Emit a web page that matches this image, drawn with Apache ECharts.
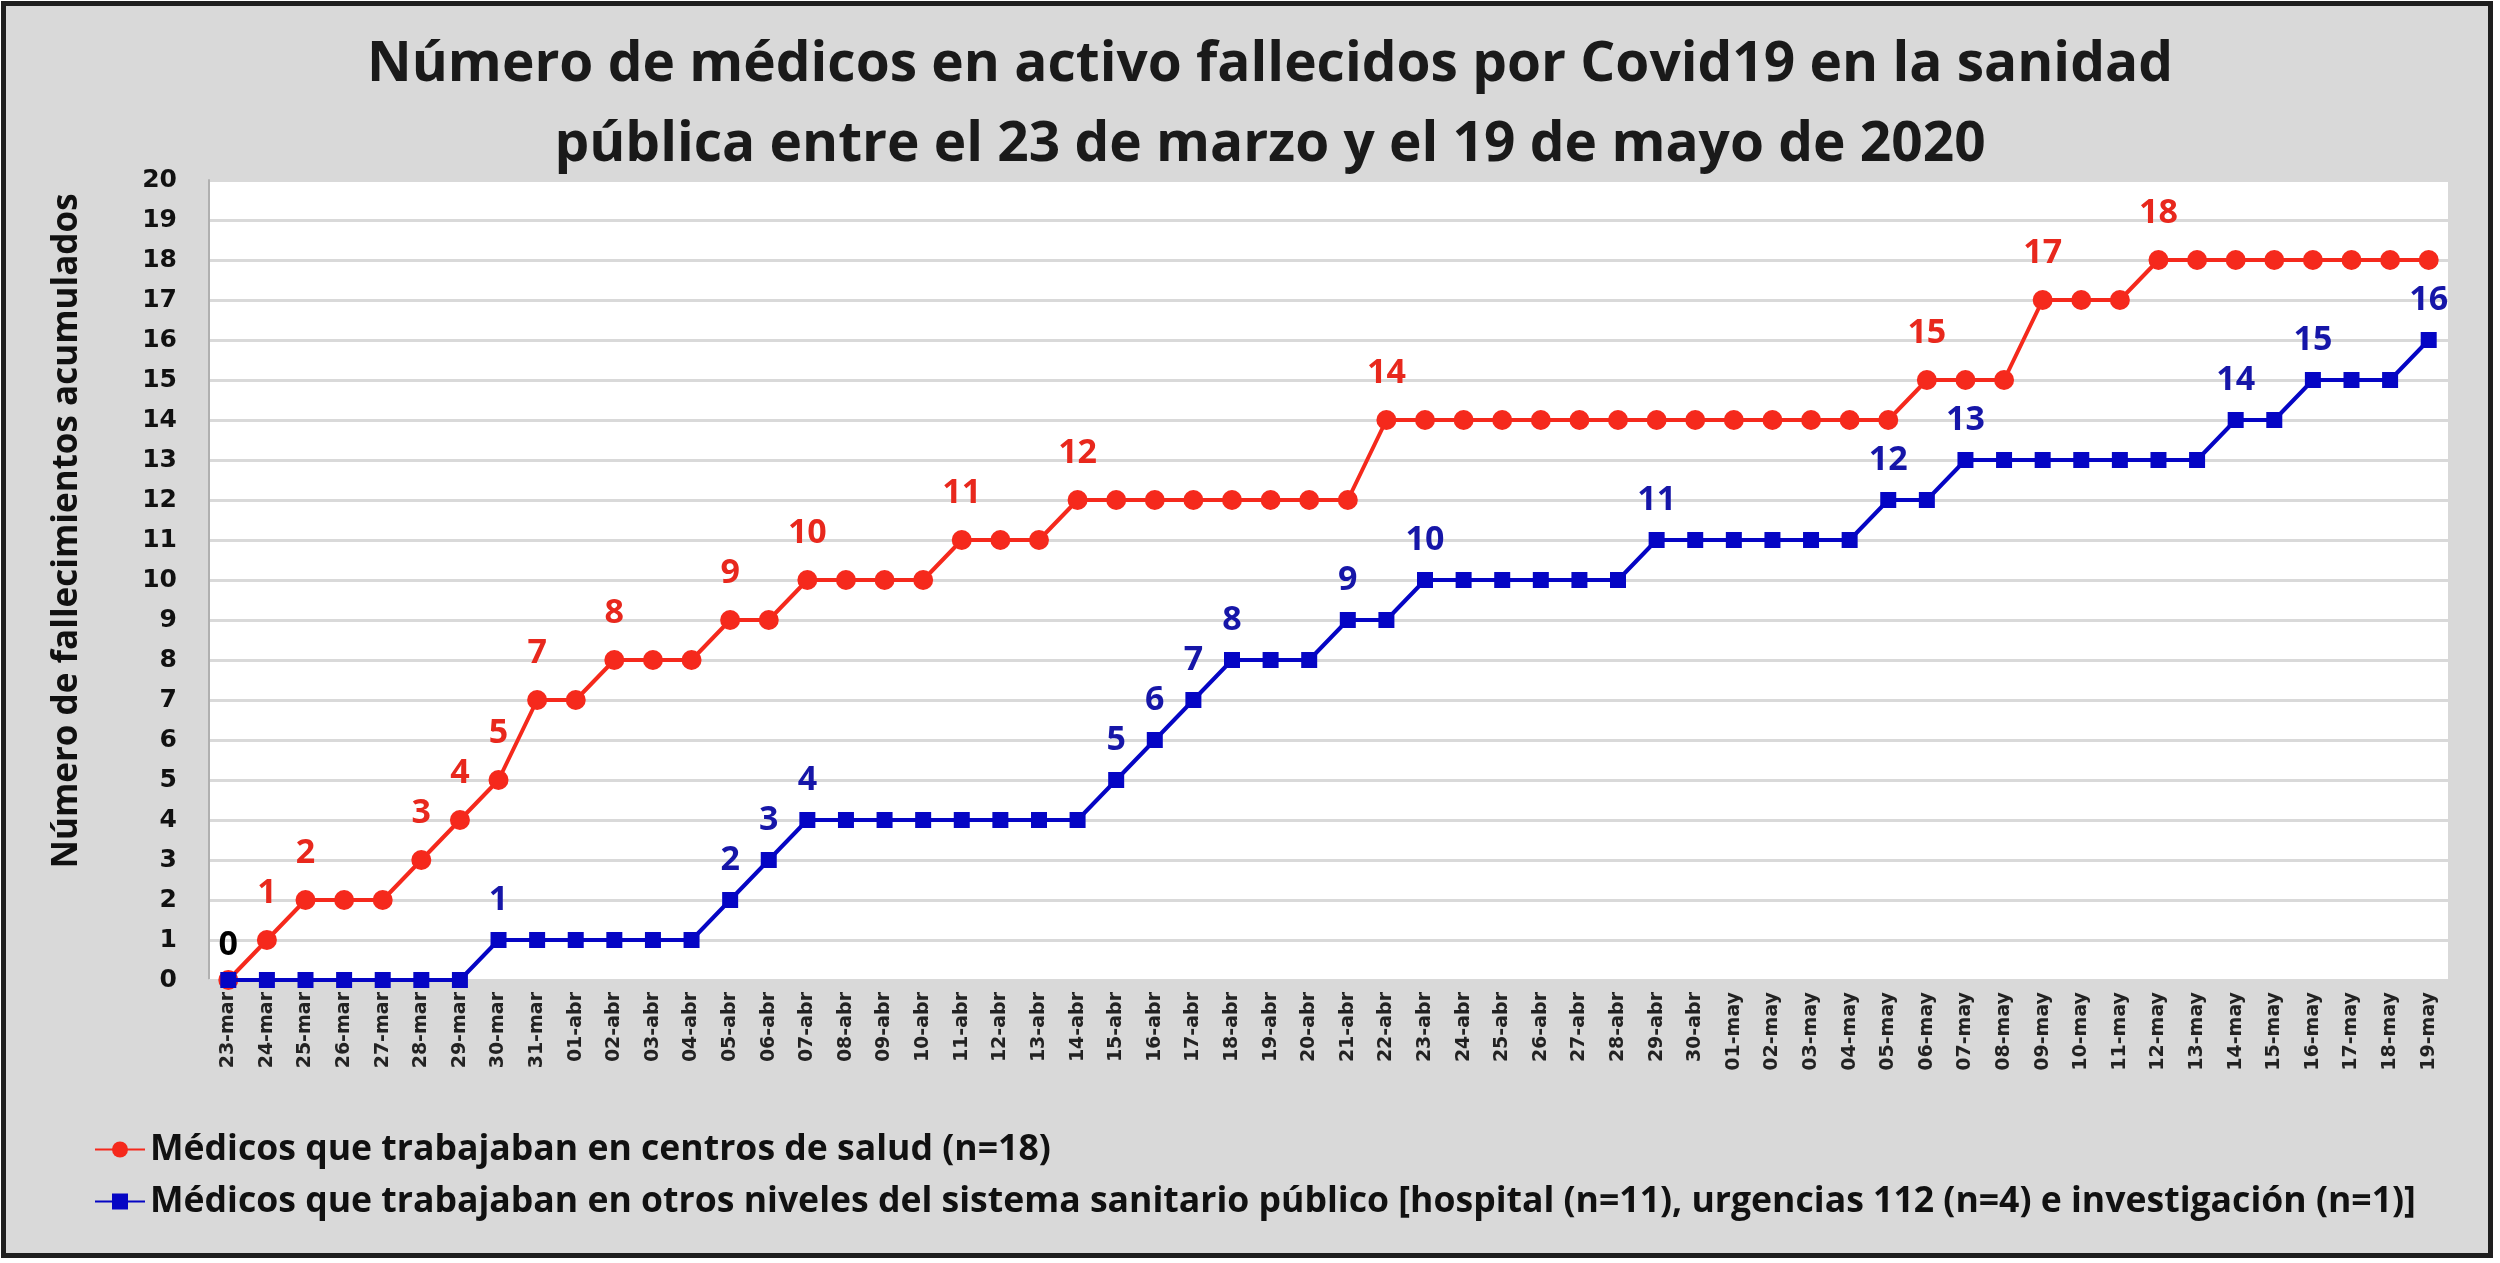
<!DOCTYPE html>
<html>
<head>
<meta charset="utf-8">
<script src="https://cdn.jsdelivr.net/npm/echarts@6/dist/echarts.min.js"></script>
<style>
  html, body { margin: 0; padding: 0; background: #ffffff; }
  #frame { position: absolute; left: 1px; top: 1px; width: 2492px; height: 1257px; box-sizing: border-box;
           border: 5px solid #1e1e1e; background: #d9d9d9; }
  #chart { position: absolute; left: 0; top: 0; width: 2500px; height: 1263px; }
</style>
</head>
<body>
<div id="frame"></div>
<div id="chart"></div>
<script>
const titleText = 'Número de médicos en activo fallecidos por Covid19 en la sanidad\npública entre el 23 de marzo y el 19 de mayo de 2020';
const yAxisTitle = 'Número de fallecimientos acumulados';
const redName = 'Médicos que trabajaban en centros de salud (n=18)';
const blueName = 'Médicos que trabajaban en otros niveles del sistema sanitario público [hospital (n=11), urgencias 112 (n=4) e investigación (n=1)]';

const categories = [
  '23-mar','24-mar','25-mar','26-mar','27-mar','28-mar','29-mar','30-mar','31-mar',
  '01-abr','02-abr','03-abr','04-abr','05-abr','06-abr','07-abr','08-abr','09-abr','10-abr',
  '11-abr','12-abr','13-abr','14-abr','15-abr','16-abr','17-abr','18-abr','19-abr','20-abr',
  '21-abr','22-abr','23-abr','24-abr','25-abr','26-abr','27-abr','28-abr','29-abr','30-abr',
  '01-may','02-may','03-may','04-may','05-may','06-may','07-may','08-may','09-may','10-may',
  '11-may','12-may','13-may','14-may','15-may','16-may','17-may','18-may','19-may'
];

const redValues = [
  0,1,2,2,2,3,4,5,7,7,
  8,8,8,9,9,10,10,10,10,11,
  11,11,12,12,12,12,12,12,12,12,
  14,14,14,14,14,14,14,14,14,14,
  14,14,14,14,15,15,15,17,17,17,
  18,18,18,18,18,18,18,18
];

const blueValues = [
  0,0,0,0,0,0,0,1,1,1,
  1,1,1,2,3,4,4,4,4,4,
  4,4,4,5,6,7,8,8,8,9,
  9,10,10,10,10,10,10,11,11,11,
  11,11,11,12,12,13,13,13,13,13,
  13,13,14,14,15,15,15,16
];

const redLabelIndex = [1,2,5,6,7,8,10,13,15,19,22,30,44,47,50];
const zeroLabelIndex = [0];
const blueLabelIndex = [7,13,14,15,23,24,25,26,29,31,37,43,45,52,54,57];

const yTicks = { min: 0, max: 20, interval: 1 };

const RED = '#f5291c';
const RED_LABEL = '#e8281d';
const BLUE = '#0505c4';
const BLUE_LABEL = '#1616a8';
const FONT = 'Open Sans';

const redData = redValues.map((v, i) => {
  if (zeroLabelIndex.includes(i)) {
    return { value: v, label: { show: true, color: '#000000', distance: 8 } };
  }
  return { value: v, label: { show: redLabelIndex.includes(i) } };
});
const blueData = blueValues.map((v, i) => ({ value: v, label: { show: blueLabelIndex.includes(i) } }));

const chart = echarts.init(document.getElementById('chart'), null, { renderer: 'canvas' });
chart.setOption({
  backgroundColor: 'transparent',
  animation: false,
  title: {
    text: titleText,
    left: 1270,
    top: 25,
    textAlign: 'center',
    padding: 0,
    textStyle: { fontFamily: FONT, fontWeight: 'bold', fontSize: 55, lineHeight: 80, color: '#1a1a1a' }
  },
  graphic: [{
    type: 'text',
    x: 67,
    y: 531,
    rotation: Math.PI / 2,
    style: {
      text: yAxisTitle,
      align: 'center',
      verticalAlign: 'middle',
      fontFamily: FONT,
      fontWeight: 'bold',
      fontSize: 35,
      fill: '#111111'
    }
  }],
  legend: {
    orient: 'vertical',
    left: 94,
    top: 1131,
    itemWidth: 50,
    itemHeight: 20,
    itemGap: 15,
    padding: 0,
    textStyle: { fontFamily: FONT, fontWeight: 'bold', fontSize: 35.6, color: '#111111', lineHeight: 37 },
    data: [redName, blueName]
  },
  grid: {
    left: 209,
    right: 52,
    top: 180,
    bottom: 283,
    show: true,
    backgroundColor: '#ffffff',
    borderWidth: 0
  },
  xAxis: {
    type: 'category',
    data: categories,
    boundaryGap: true,
    axisLine: { show: true, lineStyle: { color: '#d9d9d9', width: 3 } },
    axisTick: { show: false },
    axisLabel: {
      interval: 0,
      rotate: 90,
      fontFamily: 'DejaVu Sans',
      fontWeight: 'bold',
      fontSize: 19,
      color: '#222222',
      margin: 12
    },
    splitLine: { show: false }
  },
  yAxis: {
    type: 'value',
    min: yTicks.min,
    max: yTicks.max,
    interval: yTicks.interval,
    axisLine: { show: true, lineStyle: { color: '#b0b0b0', width: 2 } },
    axisTick: { show: false },
    axisLabel: {
      fontFamily: 'DejaVu Sans',
      fontWeight: 'bold',
      fontSize: 25,
      color: '#111111',
      margin: 32
    },
    splitLine: { show: true, lineStyle: { color: '#d9d9d9', width: 3 } }
  },
  series: [
    {
      name: redName,
      type: 'line',
      data: redData,
      symbol: 'circle',
      symbolSize: 20,
      lineStyle: { color: RED, width: 4 },
      itemStyle: { color: RED },
      label: {
        show: false,
        position: 'top',
        distance: 20,
        fontFamily: FONT,
        fontWeight: 'bold',
        fontSize: 34,
        color: RED_LABEL
      },
      z: 2
    },
    {
      name: blueName,
      type: 'line',
      data: blueData,
      symbol: 'rect',
      symbolSize: 16,
      lineStyle: { color: BLUE, width: 4 },
      itemStyle: { color: BLUE },
      label: {
        show: false,
        position: 'top',
        distance: 15,
        fontFamily: FONT,
        fontWeight: 'bold',
        fontSize: 34,
        color: BLUE_LABEL
      },
      z: 3
    }
  ]
});
</script>
</body>
</html>
